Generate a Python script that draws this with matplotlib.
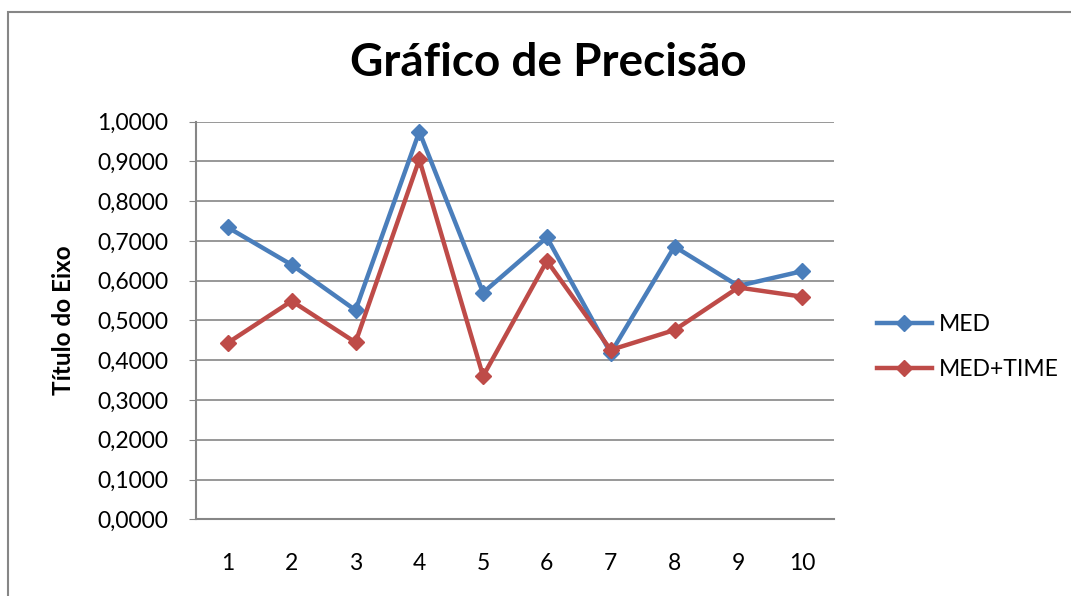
import matplotlib.pyplot as plt
from matplotlib.ticker import FuncFormatter, MultipleLocator
from matplotlib.patches import Rectangle

plt.rcParams['font.family'] = ['Lato', 'DejaVu Sans']

categories = [1, 2, 3, 4, 5, 6, 7, 8, 9, 10]
med = [0.734, 0.640, 0.526, 0.975, 0.570, 0.709, 0.418, 0.686, 0.587, 0.624]
med_time = [0.444, 0.549, 0.445, 0.905, 0.360, 0.650, 0.426, 0.476, 0.583, 0.560]

BLUE = '#4a7ebb'
RED = '#be4b48'
GRID = '#868686'


def do_plot():
    fig = plt.figure(figsize=(10.71, 5.96), dpi=100)
    # outer chart border (only top and left show in the crop)
    fig.patches.append(Rectangle((8 / 1071, -0.05), 1.1, 1.05 - 12 / 596,
                                 transform=fig.transFigure, fill=False,
                                 edgecolor=GRID, linewidth=1.5))
    ax = fig.add_axes([196 / 1071, 1 - 519.3 / 596, 638 / 1071, 397.6 / 596])

    ax.plot(categories, med, '-D', color=BLUE, lw=3.2, markersize=8, label='MED')
    ax.plot(categories, med_time, '-D', color=RED, lw=3.2, markersize=8, label='MED+TIME')

    ax.set_xlim(0.5, 10.5)
    ax.set_ylim(0, 1.0)
    ax.yaxis.set_major_locator(MultipleLocator(0.1))
    ax.yaxis.set_major_formatter(FuncFormatter(lambda v, p: ('%.4f' % v).replace('.', ',')))
    ax.set_xticks(categories)
    ax.grid(axis='y', color=GRID, linewidth=1.2)
    ax.set_axisbelow(True)

    for s in ['top', 'right']:
        ax.spines[s].set_visible(False)
    ax.spines['left'].set_color(GRID)
    ax.spines['left'].set_linewidth(1.5)
    ax.spines['bottom'].set_color(GRID)
    ax.spines['bottom'].set_linewidth(1.5)
    ax.tick_params(axis='y', length=5, color=GRID, labelsize=16.5, pad=15)
    ax.tick_params(axis='x', length=0, labelsize=16.5, pad=24)

    ax.set_ylabel('Título do Eixo', fontsize=17.5, fontweight='bold', labelpad=16)
    fig.text(548 / 1071, 1 - 63 / 596, 'Gráfico de Precisão', ha='center', va='center',
             fontsize=33, fontweight='bold')

    fig.legend(loc='center left', bbox_to_anchor=(856 / 1071, 1 - 347 / 596),
               frameon=False, fontsize=16.5, handlelength=2.4, labelspacing=1.05,
               handletextpad=0.3)

    fig.savefig('out.png', dpi=100)


if __name__ == '__main__':
    do_plot()
